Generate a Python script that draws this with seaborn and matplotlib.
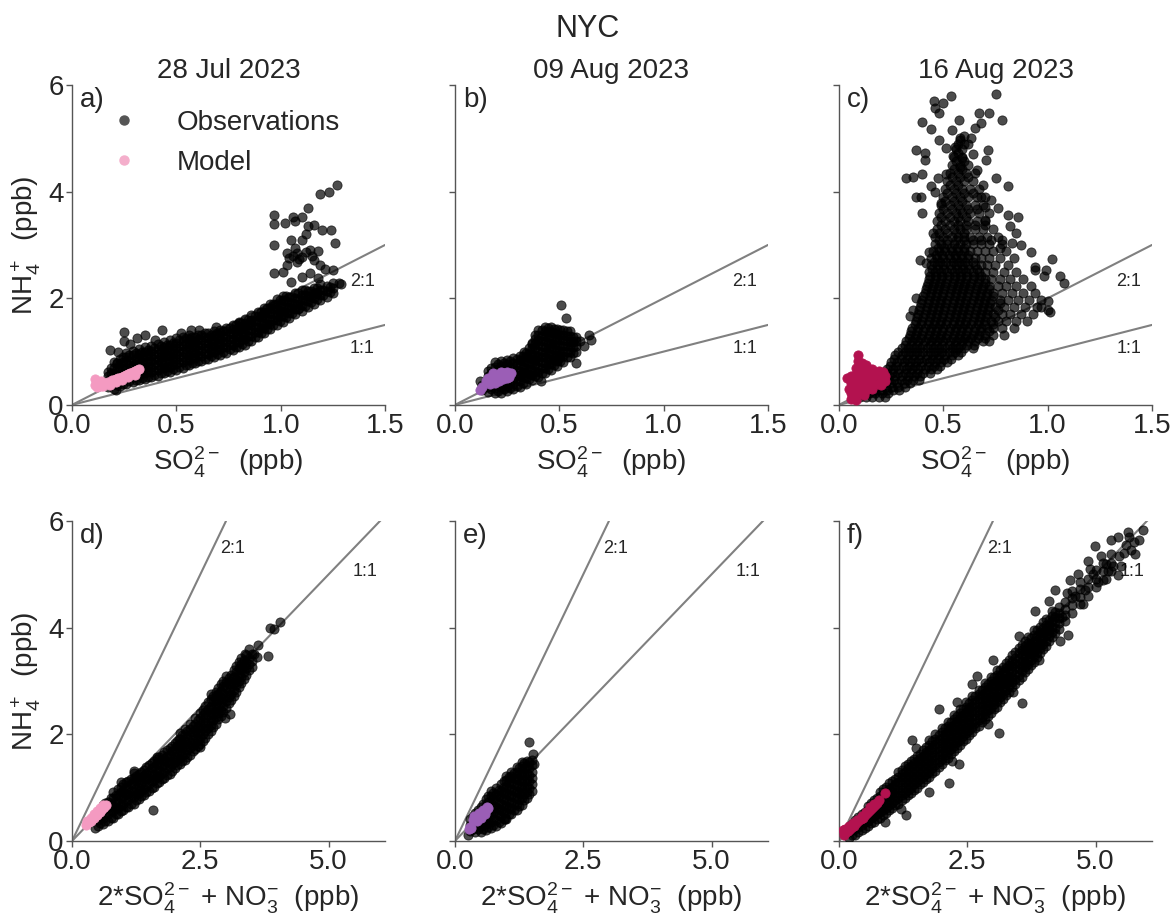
import matplotlib
matplotlib.use("Agg")
import matplotlib.pyplot as plt
import seaborn as sns
import pandas as pd
from matplotlib.lines import Line2D

# ---------------- DATA ----------------
days = ["28 Jul 2023", "09 Aug 2023", "16 Aug 2023"]
model_colors = ["#F49AC1", "#9B5EB6", "#B3124F"]
panel_letters = ["a)", "b)", "c)", "d)", "e)", "f)"]
top_xticks = [0.0, 0.5, 1.0, 1.5]
bottom_xticks = [0.0, 2.5, 5.0]
yticks = [0, 2, 4, 6]

# Panel a: observations, dense band as (SO4, [NH4 ...]) columns
a_obs_core = [
    (0.17, [0.34, 0.44, 0.54, 0.62]),
    (0.20, [0.30, 0.40, 0.50, 0.60, 0.70, 0.80]),
    (0.23, [0.36, 0.46, 0.56, 0.66, 0.76, 0.86]),
    (0.26, [0.40, 0.50, 0.60, 0.70, 0.80, 0.90, 0.98]),
    (0.29, [0.43, 0.53, 0.63, 0.73, 0.83, 0.93, 1.02]),
    (0.32, [0.46, 0.56, 0.66, 0.76, 0.86, 0.96, 1.05]),
    (0.35, [0.49, 0.59, 0.69, 0.79, 0.89, 0.99, 1.08]),
    (0.38, [0.52, 0.62, 0.72, 0.82, 0.92, 1.02, 1.11]),
    (0.41, [0.55, 0.65, 0.75, 0.85, 0.95, 1.05, 1.14]),
    (0.44, [0.59, 0.69, 0.79, 0.89, 0.99, 1.09, 1.18]),
    (0.47, [0.62, 0.72, 0.82, 0.92, 1.02, 1.12, 1.21]),
    (0.50, [0.66, 0.76, 0.86, 0.96, 1.06, 1.16, 1.25]),
    (0.53, [0.70, 0.80, 0.90, 1.00, 1.10, 1.20, 1.28]),
    (0.56, [0.74, 0.84, 0.94, 1.04, 1.14, 1.24, 1.31]),
    (0.59, [0.78, 0.88, 0.98, 1.08, 1.18, 1.28]),
    (0.62, [0.82, 0.92, 1.02, 1.12, 1.22, 1.32]),
    (0.65, [0.86, 0.96, 1.06, 1.16, 1.26, 1.35]),
    (0.68, [0.90, 1.00, 1.10, 1.20, 1.30, 1.38]),
    (0.71, [0.94, 1.04, 1.14, 1.24, 1.34, 1.41]),
    (0.74, [0.98, 1.08, 1.18, 1.28, 1.38, 1.45]),
    (0.77, [1.03, 1.13, 1.23, 1.33, 1.43, 1.50]),
    (0.80, [1.08, 1.18, 1.28, 1.38, 1.48, 1.56]),
    (0.83, [1.13, 1.23, 1.33, 1.43, 1.53, 1.62]),
    (0.86, [1.20, 1.30, 1.40, 1.50, 1.60, 1.68]),
    (0.89, [1.27, 1.37, 1.47, 1.57, 1.67, 1.75]),
    (0.92, [1.34, 1.44, 1.54, 1.64, 1.74, 1.82]),
    (0.95, [1.42, 1.52, 1.62, 1.72, 1.82, 1.90]),
    (0.98, [1.50, 1.60, 1.70, 1.80, 1.90, 1.98]),
    (1.01, [1.56, 1.66, 1.76, 1.86, 1.96, 2.04]),
    (1.04, [1.63, 1.73, 1.83, 1.93, 2.03]),
    (1.07, [1.70, 1.80, 1.90, 2.00, 2.10]),
    (1.10, [1.77, 1.87, 1.97, 2.07, 2.16]),
    (1.13, [1.84, 1.94, 2.04, 2.14]),
    (1.16, [1.90, 2.00, 2.10, 2.20]),
    (1.19, [1.96, 2.06, 2.16, 2.26]),
    (1.22, [2.03, 2.13, 2.23]),
    (1.25, [2.09, 2.19, 2.29]),
]
a_obs_core2 = [
    (0.185, [0.39, 0.49, 0.59, 0.69]),
    (0.215, [0.38, 0.48, 0.58, 0.68, 0.78]),
    (0.245, [0.40, 0.50, 0.60, 0.70, 0.80, 0.90]),
    (0.275, [0.44, 0.54, 0.64, 0.74, 0.84, 0.94]),
    (0.305, [0.47, 0.57, 0.67, 0.77, 0.87, 0.97]),
    (0.335, [0.50, 0.60, 0.70, 0.80, 0.90, 1.00]),
    (0.365, [0.53, 0.63, 0.73, 0.83, 0.93, 1.03]),
    (0.395, [0.56, 0.66, 0.76, 0.86, 0.96, 1.06]),
    (0.425, [0.60, 0.70, 0.80, 0.90, 1.00, 1.10]),
    (0.455, [0.63, 0.73, 0.83, 0.93, 1.03, 1.13]),
    (0.485, [0.67, 0.77, 0.87, 0.97, 1.07, 1.17]),
    (0.515, [0.71, 0.81, 0.91, 1.01, 1.11, 1.21]),
    (0.545, [0.75, 0.85, 0.95, 1.05, 1.15, 1.25]),
    (0.575, [0.79, 0.89, 0.99, 1.09, 1.19, 1.27]),
    (0.605, [0.83, 0.93, 1.03, 1.13, 1.23, 1.31]),
    (0.635, [0.87, 0.97, 1.07, 1.17, 1.27, 1.34]),
    (0.665, [0.91, 1.01, 1.11, 1.21, 1.31]),
    (0.695, [0.95, 1.05, 1.15, 1.25, 1.35]),
    (0.725, [0.99, 1.09, 1.19, 1.29, 1.39]),
    (0.755, [1.04, 1.14, 1.24, 1.34, 1.44]),
    (0.785, [1.09, 1.19, 1.29, 1.39, 1.49]),
    (0.815, [1.14, 1.24, 1.34, 1.44, 1.54]),
    (0.845, [1.20, 1.30, 1.40, 1.50, 1.60]),
    (0.875, [1.27, 1.37, 1.47, 1.57, 1.67]),
    (0.905, [1.34, 1.44, 1.54, 1.64, 1.74]),
    (0.935, [1.42, 1.52, 1.62, 1.72, 1.82]),
    (0.965, [1.50, 1.60, 1.70, 1.80, 1.90]),
    (0.995, [1.57, 1.67, 1.77, 1.87, 1.97]),
    (1.025, [1.64, 1.74, 1.84, 1.94, 2.04]),
    (1.055, [1.72, 1.82, 1.92, 2.02]),
    (1.085, [1.79, 1.89, 1.99, 2.09]),
    (1.115, [1.86, 1.96, 2.06, 2.16]),
    (1.145, [1.93, 2.03, 2.13]),
    (1.175, [1.99, 2.09, 2.19]),
    (1.205, [2.06, 2.16]),
    (1.235, [2.12, 2.22]),
]
a_obs_sparse = [
    (1.27, 4.12), (1.19, 3.95), (1.23, 3.99), (1.13, 3.69), (0.97, 3.56), (1.06, 3.53),
    (1.10, 3.52), (0.97, 3.39), (1.02, 3.42), (1.16, 3.38), (1.20, 3.28), (1.24, 3.28),
    (1.05, 3.09), (1.10, 3.09), (0.97, 3.00), (1.26, 3.03), (1.03, 2.84), (1.08, 2.84),
    (1.14, 2.91), (1.18, 2.88), (1.04, 2.75), (1.09, 2.73), (1.16, 2.72), (1.03, 2.62),
    (1.19, 2.62), (0.97, 2.47), (1.01, 2.50), (1.14, 2.47), (1.25, 2.53), (1.05, 2.31),
    (1.18, 2.38), (1.28, 2.28), (1.07, 2.95), (1.12, 3.20), (1.21, 2.55), (1.06, 2.80),
    (1.10, 2.78), (1.12, 2.86), (1.08, 2.68), (1.15, 2.80), (1.13, 3.35), (1.07, 3.45),
    (0.18, 1.03), (0.22, 1.00), (0.25, 1.37), (0.25, 1.19), (0.31, 1.25), (0.35, 1.31),
    (0.215, 0.78), (0.21, 0.28), (0.43, 1.40), (0.61, 1.41), (0.69, 1.47), (0.80, 1.53),
    (0.92, 1.72), (0.97, 1.87), (0.98, 1.66), (1.09, 1.81), (1.17, 2.09), (1.10, 2.39),
    (0.28, 1.15), (0.40, 1.22), (0.52, 1.35), (0.57, 1.40), (0.86, 1.58), (1.29, 2.26),
]
a_mod = [
    (0.11, 0.38), (0.11, 0.48), (0.12, 0.33), (0.12, 0.44), (0.13, 0.40), (0.14, 0.36),
    (0.14, 0.45), (0.15, 0.40), (0.16, 0.42), (0.17, 0.43), (0.18, 0.42), (0.19, 0.46),
    (0.20, 0.47), (0.21, 0.48), (0.22, 0.50), (0.23, 0.51), (0.24, 0.53), (0.25, 0.55),
    (0.26, 0.56), (0.27, 0.58), (0.28, 0.60), (0.29, 0.61), (0.30, 0.63), (0.31, 0.65),
    (0.32, 0.67), (0.15, 0.35), (0.18, 0.38), (0.21, 0.43), (0.24, 0.47), (0.27, 0.52),
    (0.30, 0.57),
]

# Panel b: observations (SO4, [NH4 ...])
b_obs_core = [
    (0.13, [0.28, 0.38]),
    (0.16, [0.24, 0.34, 0.44, 0.54, 0.64]),
    (0.19, [0.22, 0.32, 0.42, 0.52, 0.62, 0.72, 0.80]),
    (0.22, [0.23, 0.33, 0.43, 0.53, 0.63, 0.73, 0.82]),
    (0.25, [0.26, 0.36, 0.46, 0.56, 0.66, 0.76, 0.85]),
    (0.28, [0.29, 0.39, 0.49, 0.59, 0.69, 0.79, 0.88]),
    (0.31, [0.34, 0.44, 0.54, 0.64, 0.74, 0.84, 0.92]),
    (0.34, [0.40, 0.50, 0.60, 0.70, 0.80, 0.90, 0.98]),
    (0.37, [0.46, 0.56, 0.66, 0.76, 0.86, 0.96, 1.06, 1.14]),
    (0.40, [0.52, 0.62, 0.72, 0.82, 0.92, 1.02, 1.12, 1.22, 1.32, 1.40]),
    (0.43, [0.59, 0.69, 0.79, 0.89, 0.99, 1.09, 1.19, 1.29, 1.39, 1.47]),
    (0.46, [0.66, 0.76, 0.86, 0.96, 1.06, 1.16, 1.26, 1.36, 1.46]),
    (0.49, [0.73, 0.83, 0.93, 1.03, 1.13, 1.23, 1.33, 1.43]),
    (0.52, [0.81, 0.91, 1.01, 1.11, 1.21, 1.31, 1.41]),
    (0.55, [0.90, 1.00, 1.10, 1.20, 1.30, 1.38]),
    (0.58, [1.00, 1.10, 1.20, 1.28]),
]
b_obs_core2 = [
    (0.175, [0.29, 0.39, 0.49, 0.59, 0.69]),
    (0.205, [0.27, 0.37, 0.47, 0.57, 0.67, 0.77]),
    (0.235, [0.29, 0.39, 0.49, 0.59, 0.69, 0.79]),
    (0.265, [0.32, 0.42, 0.52, 0.62, 0.72, 0.82]),
    (0.295, [0.36, 0.46, 0.56, 0.66, 0.76, 0.86]),
    (0.325, [0.42, 0.52, 0.62, 0.72, 0.82, 0.92]),
    (0.355, [0.48, 0.58, 0.68, 0.78, 0.88, 0.98, 1.06]),
    (0.385, [0.54, 0.64, 0.74, 0.84, 0.94, 1.04, 1.14, 1.24, 1.32]),
    (0.415, [0.60, 0.70, 0.80, 0.90, 1.00, 1.10, 1.20, 1.30, 1.40]),
    (0.445, [0.67, 0.77, 0.87, 0.97, 1.07, 1.17, 1.27, 1.37, 1.45]),
    (0.475, [0.74, 0.84, 0.94, 1.04, 1.14, 1.24, 1.34, 1.42]),
    (0.505, [0.82, 0.92, 1.02, 1.12, 1.22, 1.32, 1.40]),
    (0.535, [0.90, 1.00, 1.10, 1.20, 1.30, 1.38]),
    (0.565, [0.98, 1.08, 1.18, 1.28]),
]
b_obs_sparse = [
    (0.51, 1.875), (0.53, 1.63), (0.37, 1.16), (0.64, 1.31), (0.65, 1.22), (0.58, 0.78),
    (0.50, 0.875), (0.60, 1.19), (0.41, 0.45), (0.33, 1.00), (0.12, 0.45), (0.62, 1.10),
]
b_mod = [
    (0.12, 0.28), (0.13, 0.33), (0.15, 0.45), (0.16, 0.50), (0.17, 0.48), (0.18, 0.52),
    (0.19, 0.55), (0.20, 0.50), (0.21, 0.58), (0.22, 0.55), (0.23, 0.60), (0.24, 0.56),
    (0.25, 0.62), (0.26, 0.58), (0.27, 0.60), (0.17, 0.40), (0.19, 0.42), (0.21, 0.45),
    (0.23, 0.48), (0.25, 0.50), (0.18, 0.60), (0.22, 0.62), (0.26, 0.52),
]

# Panel c: observations, dense core as (NH4, [SO4 ...]) rows
c_obs_core = [
    (0.15, [0.10, 0.13, 0.16, 0.19, 0.22]),
    (0.28, [0.14, 0.17, 0.20, 0.23, 0.26, 0.29]),
    (0.41, [0.19, 0.22, 0.25, 0.28, 0.31, 0.34]),
    (0.54, [0.21, 0.24, 0.27, 0.30, 0.33, 0.36, 0.39]),
    (0.67, [0.23, 0.26, 0.29, 0.32, 0.35, 0.38, 0.41, 0.44, 0.47]),
    (0.80, [0.25, 0.28, 0.31, 0.34, 0.37, 0.40, 0.43, 0.46, 0.49, 0.52]),
    (0.93, [0.27, 0.30, 0.33, 0.36, 0.39, 0.42, 0.45, 0.48, 0.51, 0.54, 0.57]),
    (1.06, [0.30, 0.33, 0.36, 0.39, 0.42, 0.45, 0.48, 0.51, 0.54, 0.57, 0.60, 0.64]),
    (1.19, [0.32, 0.35, 0.38, 0.41, 0.44, 0.47, 0.50, 0.53, 0.56, 0.59, 0.62, 0.65, 0.69, 0.72]),
    (1.32, [0.34, 0.37, 0.40, 0.43, 0.46, 0.49, 0.52, 0.55, 0.58, 0.61, 0.64, 0.67, 0.70, 0.74, 0.79]),
    (1.45, [0.35, 0.38, 0.41, 0.44, 0.47, 0.50, 0.53, 0.56, 0.59, 0.62, 0.65, 0.68, 0.71, 0.74, 0.78, 0.84]),
    (1.58, [0.37, 0.40, 0.43, 0.46, 0.49, 0.52, 0.55, 0.58, 0.61, 0.64, 0.67, 0.70, 0.73, 0.76, 0.80, 0.85, 0.90]),
    (1.71, [0.38, 0.41, 0.44, 0.47, 0.50, 0.53, 0.56, 0.59, 0.62, 0.65, 0.68, 0.71, 0.74, 0.78, 0.82, 0.87, 0.93]),
    (1.84, [0.39, 0.42, 0.45, 0.48, 0.51, 0.54, 0.57, 0.60, 0.63, 0.66, 0.69, 0.72, 0.75, 0.79, 0.84, 0.89, 0.95]),
    (1.97, [0.40, 0.43, 0.46, 0.49, 0.52, 0.55, 0.58, 0.61, 0.64, 0.67, 0.70, 0.73, 0.77, 0.81, 0.86, 0.91, 0.97]),
    (2.10, [0.41, 0.44, 0.47, 0.50, 0.53, 0.56, 0.59, 0.62, 0.65, 0.68, 0.71, 0.74, 0.78, 0.83, 0.88, 0.94]),
    (2.23, [0.42, 0.45, 0.48, 0.51, 0.54, 0.57, 0.60, 0.63, 0.66, 0.69, 0.72, 0.76, 0.80, 0.85, 0.92]),
    (2.36, [0.43, 0.46, 0.49, 0.52, 0.55, 0.58, 0.61, 0.64, 0.67, 0.70, 0.73, 0.77, 0.82, 0.88]),
    (2.49, [0.43, 0.46, 0.49, 0.52, 0.55, 0.58, 0.61, 0.64, 0.67, 0.70, 0.74, 0.79, 0.85]),
    (2.62, [0.44, 0.47, 0.50, 0.53, 0.56, 0.59, 0.62, 0.65, 0.68, 0.71, 0.75, 0.81]),
    (2.75, [0.44, 0.47, 0.50, 0.53, 0.56, 0.59, 0.62, 0.65, 0.68, 0.72, 0.77, 0.84]),
    (2.88, [0.45, 0.48, 0.51, 0.54, 0.57, 0.60, 0.63, 0.66, 0.70, 0.74, 0.80]),
    (3.01, [0.46, 0.49, 0.52, 0.55, 0.58, 0.61, 0.64, 0.68, 0.72, 0.78]),
    (3.15, [0.46, 0.50, 0.54, 0.57, 0.60, 0.63, 0.67, 0.71, 0.76]),
    (3.30, [0.47, 0.51, 0.55, 0.58, 0.61, 0.65, 0.69, 0.74]),
    (3.45, [0.47, 0.51, 0.55, 0.58, 0.62, 0.66, 0.70]),
    (3.60, [0.48, 0.52, 0.56, 0.59, 0.63, 0.67, 0.72]),
    (3.75, [0.49, 0.53, 0.57, 0.61, 0.65, 0.69]),
    (3.90, [0.50, 0.54, 0.58, 0.62, 0.66, 0.70]),
    (4.05, [0.51, 0.55, 0.59, 0.63, 0.67]),
    (4.20, [0.52, 0.56, 0.60, 0.64]),
    (4.35, [0.53, 0.57, 0.61, 0.65]),
    (4.50, [0.54, 0.58, 0.62]),
    (4.65, [0.55, 0.59]),
    (4.80, [0.56, 0.59]),
    (0.215, [0.115, 0.145, 0.175, 0.205, 0.235]),
    (0.345, [0.165, 0.195, 0.225, 0.255, 0.285, 0.315]),
    (0.475, [0.205, 0.235, 0.265, 0.295, 0.325, 0.355, 0.385]),
    (0.605, [0.225, 0.255, 0.285, 0.315, 0.345, 0.375, 0.405, 0.435]),
    (0.735, [0.245, 0.275, 0.305, 0.335, 0.365, 0.395, 0.425, 0.455, 0.485]),
    (0.865, [0.265, 0.295, 0.325, 0.355, 0.385, 0.415, 0.445, 0.475, 0.505, 0.535]),
    (0.995, [0.285, 0.315, 0.345, 0.375, 0.405, 0.435, 0.465, 0.495, 0.525, 0.555, 0.585]),
    (1.125, [0.315, 0.345, 0.375, 0.405, 0.435, 0.465, 0.495, 0.525, 0.555, 0.585, 0.615, 0.645]),
    (1.255, [0.335, 0.365, 0.395, 0.425, 0.455, 0.485, 0.515, 0.545, 0.575, 0.605, 0.635, 0.665, 0.70]),
    (1.385, [0.345, 0.375, 0.405, 0.435, 0.465, 0.495, 0.525, 0.555, 0.585, 0.615, 0.645, 0.675, 0.72]),
    (1.515, [0.365, 0.395, 0.425, 0.455, 0.485, 0.515, 0.545, 0.575, 0.605, 0.635, 0.665, 0.695, 0.74]),
    (1.645, [0.375, 0.405, 0.435, 0.465, 0.495, 0.525, 0.555, 0.585, 0.615, 0.645, 0.675, 0.705, 0.75]),
    (1.775, [0.385, 0.415, 0.445, 0.475, 0.505, 0.535, 0.565, 0.595, 0.625, 0.655, 0.685, 0.715, 0.76]),
    (1.905, [0.395, 0.425, 0.455, 0.485, 0.515, 0.545, 0.575, 0.605, 0.635, 0.665, 0.695, 0.725, 0.77]),
    (2.035, [0.405, 0.435, 0.465, 0.495, 0.525, 0.555, 0.585, 0.615, 0.645, 0.675, 0.705, 0.74]),
    (2.165, [0.415, 0.445, 0.475, 0.505, 0.535, 0.565, 0.595, 0.625, 0.655, 0.685, 0.72]),
    (2.295, [0.425, 0.455, 0.485, 0.515, 0.545, 0.575, 0.605, 0.635, 0.665, 0.70]),
    (2.425, [0.435, 0.465, 0.495, 0.525, 0.555, 0.585, 0.615, 0.645, 0.68]),
    (2.555, [0.445, 0.475, 0.505, 0.535, 0.565, 0.595, 0.625, 0.66]),
    (2.685, [0.455, 0.485, 0.515, 0.545, 0.575, 0.605, 0.64]),
    (2.815, [0.465, 0.495, 0.525, 0.555, 0.585, 0.62]),
    (2.945, [0.475, 0.505, 0.535, 0.565, 0.60]),
    (3.085, [0.48, 0.52, 0.56, 0.60, 0.64, 0.68, 0.73]),
    (3.225, [0.48, 0.52, 0.56, 0.60]),
    (3.375, [0.49, 0.53, 0.57, 0.61, 0.65, 0.70]),
    (3.525, [0.49, 0.53, 0.57, 0.61]),
    (3.675, [0.50, 0.54, 0.58, 0.62, 0.66]),
    (3.825, [0.51, 0.55, 0.59]),
    (3.975, [0.52, 0.56, 0.60, 0.64]),
    (4.125, [0.53, 0.57]),
    (4.275, [0.54, 0.58, 0.62]),
    (4.425, [0.55, 0.59]),
    (4.575, [0.56, 0.60]),
    (4.725, [0.57]),
    (4.90, [0.57, 0.60]),
    (5.00, [0.58]),
]
c_obs_sparse = [
    (0.753, 5.84), (0.535, 5.79), (0.455, 5.70), (0.50, 5.67), (0.46, 5.575), (0.48, 5.47),
    (0.673, 5.47), (0.72, 5.47), (0.40, 5.30), (0.573, 5.34), (0.68, 5.29), (0.78, 5.34),
    (0.44, 5.17), (0.54, 5.16), (0.65, 5.19), (0.48, 4.97), (0.578, 4.97), (0.633, 5.00),
    (0.514, 4.81), (0.554, 4.84), (0.37, 4.79), (0.41, 4.72), (0.713, 4.79), (0.41, 4.59),
    (0.546, 4.66), (0.59, 4.63), (0.64, 4.71), (0.705, 4.59), (0.578, 4.47), (0.32, 4.25),
    (0.354, 4.28), (0.40, 4.34), (0.474, 4.25), (0.514, 4.34), (0.753, 4.26), (0.81, 4.10),
    (0.69, 4.125), (0.458, 4.00), (0.37, 3.90), (0.395, 3.90), (0.68, 3.90), (0.49, 3.78),
    (0.73, 3.84), (0.40, 3.59), (0.70, 3.72), (0.81, 3.56), (0.86, 3.53), (0.82, 3.36),
    (0.70, 3.47), (0.45, 3.22), (0.85, 3.22), (0.83, 3.03), (0.87, 3.00), (0.43, 2.875),
    (0.92, 2.86), (0.386, 2.72), (0.418, 2.66), (1.02, 2.73), (0.94, 2.53), (0.99, 2.53),
    (0.94, 2.59), (1.06, 2.41), (1.08, 2.29), (0.985, 2.41), (0.37, 2.00), (0.34, 1.66),
    (0.354, 1.78), (1.00, 1.94), (1.01, 1.75), (0.97, 1.84), (1.00, 1.78), (0.78, 3.10),
    (0.76, 3.70), (0.60, 5.05), (0.62, 4.90), (0.66, 4.40), (0.44, 4.10), (0.77, 2.95),
]
c_mod = [
    (0.09, 0.93), (0.09, 0.82), (0.11, 0.78), (0.13, 0.75), (0.08, 0.70), (0.10, 0.68),
    (0.13, 0.65), (0.16, 0.68), (0.19, 0.64), (0.21, 0.62), (0.22, 0.55), (0.04, 0.50),
    (0.06, 0.55), (0.08, 0.58), (0.10, 0.55), (0.12, 0.55), (0.14, 0.52), (0.17, 0.55),
    (0.20, 0.50), (0.22, 0.45), (0.06, 0.42), (0.08, 0.45), (0.10, 0.42), (0.12, 0.40),
    (0.15, 0.42), (0.18, 0.40), (0.20, 0.38), (0.07, 0.32), (0.09, 0.35), (0.11, 0.30),
    (0.13, 0.28), (0.16, 0.30), (0.06, 0.22), (0.08, 0.20), (0.10, 0.22), (0.12, 0.18),
    (0.06, 0.12), (0.08, 0.10), (0.05, 0.30), (0.14, 0.62),
]

# Panel d: observations (2*SO4+NO3, [NH4 ...])
d_obs_core = [
    (0.5, [0.28, 0.40]),
    (0.6, [0.32, 0.44, 0.56, 0.68]),
    (0.7, [0.38, 0.50, 0.62, 0.74]),
    (0.8, [0.44, 0.56, 0.68, 0.80, 0.92]),
    (0.9, [0.50, 0.62, 0.74, 0.86, 0.98]),
    (1.0, [0.58, 0.70, 0.82, 0.94, 1.06]),
    (1.1, [0.64, 0.76, 0.88, 1.00, 1.12]),
    (1.2, [0.70, 0.82, 0.94, 1.06, 1.18, 1.28]),
    (1.3, [0.78, 0.90, 1.02, 1.14, 1.26]),
    (1.4, [0.86, 0.98, 1.10, 1.22, 1.34]),
    (1.5, [0.94, 1.06, 1.18, 1.30, 1.42]),
    (1.6, [1.02, 1.14, 1.26, 1.38, 1.50]),
    (1.7, [1.10, 1.22, 1.34, 1.46, 1.58]),
    (1.8, [1.18, 1.30, 1.42, 1.54, 1.66]),
    (1.9, [1.26, 1.38, 1.50, 1.62, 1.74]),
    (2.0, [1.36, 1.48, 1.60, 1.72, 1.84]),
    (2.1, [1.44, 1.56, 1.68, 1.80, 1.92, 2.02]),
    (2.2, [1.52, 1.64, 1.76, 1.88, 2.00, 2.10]),
    (2.3, [1.62, 1.74, 1.86, 1.98, 2.10, 2.20]),
    (2.4, [1.72, 1.84, 1.96, 2.08, 2.20, 2.30]),
    (2.5, [1.82, 1.94, 2.06, 2.18, 2.30, 2.40]),
    (2.6, [1.94, 2.06, 2.18, 2.30, 2.42, 2.54]),
    (2.7, [2.06, 2.18, 2.30, 2.42, 2.54, 2.66]),
    (2.8, [2.20, 2.32, 2.44, 2.56, 2.68, 2.80]),
    (2.9, [2.34, 2.46, 2.58, 2.70, 2.82, 2.94]),
    (3.0, [2.50, 2.62, 2.74, 2.86, 2.98, 3.10]),
    (3.1, [2.64, 2.76, 2.88, 3.00, 3.12]),
    (3.2, [2.80, 2.92, 3.04, 3.16, 3.28]),
    (3.3, [2.96, 3.08, 3.20, 3.32, 3.44]),
    (3.4, [3.12, 3.24, 3.36, 3.48]),
    (3.5, [3.26, 3.38, 3.50]),
]
d_obs_core2 = [
    (0.55, [0.34, 0.46, 0.58]),
    (0.65, [0.38, 0.50, 0.62, 0.72]),
    (0.75, [0.44, 0.56, 0.68, 0.80]),
    (0.85, [0.50, 0.62, 0.74, 0.86]),
    (0.95, [0.56, 0.68, 0.80, 0.92, 1.02]),
    (1.05, [0.64, 0.76, 0.88, 1.00, 1.10]),
    (1.15, [0.70, 0.82, 0.94, 1.06, 1.16]),
    (1.25, [0.76, 0.88, 1.00, 1.12, 1.22]),
    (1.35, [0.84, 0.96, 1.08, 1.20, 1.30]),
    (1.45, [0.92, 1.04, 1.16, 1.28, 1.38]),
    (1.55, [1.00, 1.12, 1.24, 1.36, 1.46]),
    (1.65, [1.08, 1.20, 1.32, 1.44, 1.54]),
    (1.75, [1.16, 1.28, 1.40, 1.52, 1.62]),
    (1.85, [1.24, 1.36, 1.48, 1.60, 1.70]),
    (1.95, [1.32, 1.44, 1.56, 1.68, 1.78]),
    (2.05, [1.42, 1.54, 1.66, 1.78, 1.88]),
    (2.15, [1.50, 1.62, 1.74, 1.86, 1.98]),
    (2.25, [1.58, 1.70, 1.82, 1.94, 2.06]),
    (2.35, [1.68, 1.80, 1.92, 2.04, 2.16]),
    (2.45, [1.78, 1.90, 2.02, 2.14, 2.26]),
    (2.55, [1.88, 2.00, 2.12, 2.24, 2.36, 2.46]),
    (2.65, [2.00, 2.12, 2.24, 2.36, 2.48, 2.60]),
    (2.75, [2.14, 2.26, 2.38, 2.50, 2.62, 2.72]),
    (2.85, [2.28, 2.40, 2.52, 2.64, 2.76, 2.86]),
    (2.95, [2.42, 2.54, 2.66, 2.78, 2.90, 3.00]),
    (3.05, [2.58, 2.70, 2.82, 2.94, 3.06]),
    (3.15, [2.72, 2.84, 2.96, 3.08, 3.20]),
    (3.25, [2.88, 3.00, 3.12, 3.24, 3.36]),
    (3.35, [3.04, 3.16, 3.28, 3.40]),
    (3.45, [3.20, 3.32, 3.44]),
]
d_obs_sparse = [
    (4.06, 4.11), (3.93, 3.98), (3.85, 4.00), (3.62, 3.67), (3.82, 3.47), (3.38, 3.51),
    (3.54, 3.50), (2.99, 2.30), (3.08, 2.39), (1.57, 0.58), (2.49, 1.77), (1.66, 1.58),
    (2.08, 1.92), (0.45, 0.25), (3.60, 3.45), (3.45, 3.60), (2.70, 2.75), (1.20, 1.32),
    (0.95, 1.10),
]
d_mod = [
    (0.27, 0.30), (0.30, 0.33), (0.33, 0.36), (0.36, 0.38), (0.39, 0.41), (0.42, 0.44),
    (0.45, 0.46), (0.48, 0.49), (0.51, 0.52), (0.54, 0.55), (0.57, 0.58), (0.60, 0.61),
    (0.63, 0.64), (0.66, 0.67), (0.30, 0.38), (0.36, 0.44), (0.42, 0.50), (0.48, 0.56),
    (0.54, 0.62), (0.60, 0.68),
]

# Panel e: observations (2*SO4+NO3, [NH4 ...])
e_obs_core = [
    (0.3, [0.18, 0.30, 0.42]),
    (0.4, [0.16, 0.28, 0.40, 0.52]),
    (0.5, [0.16, 0.28, 0.40, 0.52, 0.64]),
    (0.6, [0.20, 0.32, 0.44, 0.56, 0.68, 0.78]),
    (0.7, [0.24, 0.36, 0.48, 0.60, 0.72, 0.84, 0.94]),
    (0.8, [0.28, 0.40, 0.52, 0.64, 0.76, 0.88, 1.00]),
    (0.9, [0.34, 0.46, 0.58, 0.70, 0.82, 0.94, 1.06]),
    (1.0, [0.42, 0.54, 0.66, 0.78, 0.90, 1.02, 1.14, 1.22]),
    (1.1, [0.50, 0.62, 0.74, 0.86, 0.98, 1.10, 1.22, 1.30]),
    (1.2, [0.58, 0.70, 0.82, 0.94, 1.06, 1.18, 1.30, 1.38]),
    (1.3, [0.68, 0.80, 0.92, 1.04, 1.16, 1.28, 1.40, 1.48]),
    (1.4, [0.80, 0.92, 1.04, 1.16, 1.28, 1.40, 1.50]),
    (1.5, [0.94, 1.06, 1.18, 1.30, 1.42, 1.52]),
]
e_obs_core2 = [
    (0.35, [0.22, 0.34, 0.46]),
    (0.45, [0.22, 0.34, 0.46, 0.58]),
    (0.55, [0.22, 0.34, 0.46, 0.58, 0.70]),
    (0.65, [0.26, 0.38, 0.50, 0.62, 0.74, 0.84]),
    (0.75, [0.30, 0.42, 0.54, 0.66, 0.78, 0.90]),
    (0.85, [0.36, 0.48, 0.60, 0.72, 0.84, 0.96]),
    (0.95, [0.42, 0.54, 0.66, 0.78, 0.90, 1.02, 1.12]),
    (1.05, [0.50, 0.62, 0.74, 0.86, 0.98, 1.10, 1.20]),
    (1.15, [0.58, 0.70, 0.82, 0.94, 1.06, 1.18, 1.28]),
    (1.25, [0.66, 0.78, 0.90, 1.02, 1.14, 1.26, 1.36]),
    (1.35, [0.76, 0.88, 1.00, 1.12, 1.24, 1.36, 1.46]),
    (1.45, [0.88, 1.00, 1.12, 1.24, 1.36, 1.48]),
]
e_obs_sparse = [
    (1.45, 1.86), (1.52, 1.64), (0.97, 0.42), (1.55, 1.45), (0.25, 0.12),
]
e_mod = [
    (0.27, 0.22), (0.29, 0.26), (0.31, 0.24), (0.36, 0.40), (0.40, 0.43), (0.44, 0.46),
    (0.48, 0.49), (0.52, 0.52), (0.56, 0.55), (0.60, 0.58), (0.64, 0.62), (0.38, 0.46),
    (0.46, 0.52), (0.54, 0.58), (0.62, 0.64), (0.42, 0.38), (0.50, 0.44), (0.58, 0.50),
]

# Panel f: observations (2*SO4+NO3, [NH4 ...])
f_obs_core = [
    (0.20, [0.06, 0.16, 0.26]),
    (0.32, [0.12, 0.22, 0.32, 0.40]),
    (0.44, [0.20, 0.30, 0.40, 0.50]),
    (0.56, [0.28, 0.38, 0.48, 0.58, 0.66]),
    (0.68, [0.36, 0.46, 0.56, 0.66, 0.76]),
    (0.80, [0.44, 0.54, 0.64, 0.74, 0.84, 0.92]),
    (0.92, [0.52, 0.62, 0.72, 0.82, 0.92, 1.02]),
    (1.04, [0.62, 0.72, 0.82, 0.92, 1.02, 1.12]),
    (1.16, [0.70, 0.80, 0.90, 1.00, 1.10, 1.20, 1.30]),
    (1.28, [0.80, 0.90, 1.00, 1.10, 1.20, 1.30, 1.40]),
    (1.40, [0.90, 1.00, 1.10, 1.20, 1.30, 1.40, 1.50]),
    (1.52, [1.00, 1.10, 1.20, 1.30, 1.40, 1.50, 1.60]),
    (1.64, [1.10, 1.20, 1.30, 1.40, 1.50, 1.60, 1.70]),
    (1.76, [1.20, 1.30, 1.40, 1.50, 1.60, 1.70, 1.80, 1.90]),
    (1.88, [1.32, 1.42, 1.52, 1.62, 1.72, 1.82, 1.92, 2.00]),
    (2.00, [1.44, 1.54, 1.64, 1.74, 1.84, 1.94, 2.04, 2.12]),
    (2.12, [1.56, 1.66, 1.76, 1.86, 1.96, 2.06, 2.16, 2.24]),
    (2.24, [1.68, 1.78, 1.88, 1.98, 2.08, 2.18, 2.28, 2.36]),
    (2.36, [1.80, 1.90, 2.00, 2.10, 2.20, 2.30, 2.40, 2.48]),
    (2.48, [1.92, 2.02, 2.12, 2.22, 2.32, 2.42, 2.52, 2.60]),
    (2.60, [2.04, 2.14, 2.24, 2.34, 2.44, 2.54, 2.64, 2.72]),
    (2.72, [2.16, 2.26, 2.36, 2.46, 2.56, 2.66, 2.76, 2.84]),
    (2.84, [2.28, 2.38, 2.48, 2.58, 2.68, 2.78, 2.88, 2.96]),
    (2.96, [2.40, 2.50, 2.60, 2.70, 2.80, 2.90, 3.00, 3.08]),
    (3.08, [2.52, 2.62, 2.72, 2.82, 2.92, 3.02, 3.12, 3.20]),
    (3.20, [2.66, 2.76, 2.86, 2.96, 3.06, 3.16, 3.26]),
    (3.32, [2.80, 2.90, 3.00, 3.10, 3.20, 3.30, 3.40]),
    (3.44, [2.94, 3.04, 3.14, 3.24, 3.34, 3.44, 3.54]),
    (3.56, [3.08, 3.18, 3.28, 3.38, 3.48, 3.58, 3.68]),
    (3.68, [3.22, 3.32, 3.42, 3.52, 3.62, 3.72, 3.82]),
    (3.80, [3.36, 3.46, 3.56, 3.66, 3.76, 3.86, 3.96]),
    (3.92, [3.52, 3.62, 3.72, 3.82, 3.92, 4.02]),
    (4.04, [3.66, 3.76, 3.86, 3.96, 4.06, 4.16]),
    (4.16, [3.82, 3.92, 4.02, 4.12, 4.22, 4.32]),
    (4.28, [3.98, 4.08, 4.18, 4.28, 4.38]),
    (4.40, [4.12, 4.24, 4.36, 4.48]),
    (4.55, [4.28, 4.42, 4.56, 4.68]),
    (4.70, [4.44, 4.58, 4.72, 4.86]),
    (4.85, [4.60, 4.76, 4.92]),
    (5.00, [4.76, 4.92, 5.08]),
    (5.15, [4.90, 5.06, 5.22]),
    (5.30, [5.06, 5.22, 5.38]),
]
f_obs_core2 = [
    (0.26, [0.11, 0.21, 0.31]),
    (0.38, [0.17, 0.27, 0.37, 0.45]),
    (0.50, [0.25, 0.35, 0.45, 0.55]),
    (0.62, [0.33, 0.43, 0.53, 0.63, 0.71]),
    (0.74, [0.41, 0.51, 0.61, 0.71, 0.81]),
    (0.86, [0.49, 0.59, 0.69, 0.79, 0.89, 0.97]),
    (0.98, [0.58, 0.68, 0.78, 0.88, 0.98, 1.08]),
    (1.10, [0.67, 0.77, 0.87, 0.97, 1.07, 1.17]),
    (1.22, [0.76, 0.86, 0.96, 1.06, 1.16, 1.26, 1.34]),
    (1.34, [0.86, 0.96, 1.06, 1.16, 1.26, 1.36, 1.44]),
    (1.46, [0.96, 1.06, 1.16, 1.26, 1.36, 1.46, 1.54]),
    (1.58, [1.06, 1.16, 1.26, 1.36, 1.46, 1.56, 1.64]),
    (1.70, [1.16, 1.26, 1.36, 1.46, 1.56, 1.66, 1.76]),
    (1.82, [1.27, 1.37, 1.47, 1.57, 1.67, 1.77, 1.87]),
    (1.94, [1.39, 1.49, 1.59, 1.69, 1.79, 1.89, 1.99]),
    (2.06, [1.51, 1.61, 1.71, 1.81, 1.91, 2.01, 2.11]),
    (2.18, [1.63, 1.73, 1.83, 1.93, 2.03, 2.13, 2.23]),
    (2.30, [1.75, 1.85, 1.95, 2.05, 2.15, 2.25, 2.35]),
    (2.42, [1.87, 1.97, 2.07, 2.17, 2.27, 2.37, 2.47]),
    (2.54, [1.99, 2.09, 2.19, 2.29, 2.39, 2.49, 2.59]),
    (2.66, [2.11, 2.21, 2.31, 2.41, 2.51, 2.61, 2.71]),
    (2.78, [2.23, 2.33, 2.43, 2.53, 2.63, 2.73, 2.83]),
    (2.90, [2.35, 2.45, 2.55, 2.65, 2.75, 2.85, 2.95]),
    (3.02, [2.47, 2.57, 2.67, 2.77, 2.87, 2.97, 3.07]),
    (3.14, [2.60, 2.70, 2.80, 2.90, 3.00, 3.10, 3.20]),
    (3.26, [2.74, 2.84, 2.94, 3.04, 3.14, 3.24, 3.34]),
    (3.38, [2.88, 2.98, 3.08, 3.18, 3.28, 3.38, 3.48]),
    (3.50, [3.02, 3.12, 3.22, 3.32, 3.42, 3.52, 3.62]),
    (3.62, [3.16, 3.26, 3.36, 3.46, 3.56, 3.66, 3.76]),
    (3.74, [3.30, 3.40, 3.50, 3.60, 3.70, 3.80]),
    (3.86, [3.45, 3.55, 3.65, 3.75, 3.85, 3.95]),
    (3.98, [3.60, 3.70, 3.80, 3.90, 4.00, 4.10]),
    (4.10, [3.75, 3.85, 3.95, 4.05, 4.15]),
    (4.22, [3.90, 4.00, 4.10, 4.20, 4.30]),
]
f_obs_sparse = [
    (3.11, 2.02), (2.14, 1.09), (2.34, 1.44), (1.76, 0.92), (1.30, 0.49), (3.57, 2.58),
    (1.95, 2.47), (1.43, 1.89), (4.47, 3.86), (3.82, 4.32), (4.21, 4.70), (4.99, 5.54),
    (5.31, 5.64), (5.63, 5.79), (5.92, 5.84), (5.76, 5.39), (5.70, 5.45), (5.44, 5.70),
    (5.21, 4.92), (5.24, 5.07), (5.44, 4.98), (4.86, 5.26), (4.66, 5.01), (1.50, 1.75),
    (2.30, 2.60), (2.60, 2.95), (3.00, 3.40), (3.50, 3.85), (2.20, 1.50), (2.90, 2.20),
    (3.40, 2.80), (1.20, 0.60), (0.90, 0.35), (2.70, 3.10), (3.90, 3.40), (4.30, 3.75),
    (4.10, 4.50), (4.50, 4.90), (5.55, 5.40), (5.85, 5.65), (5.10, 5.35), (4.75, 4.45),
    (4.60, 4.60), (4.80, 4.70), (4.90, 5.10), (5.05, 4.85), (5.20, 5.20), (5.35, 5.15),
    (5.45, 5.35), (5.60, 5.55), (5.75, 5.60), (4.45, 4.65), (4.35, 4.20), (4.95, 5.00),
    (5.50, 5.15), (5.65, 5.70),
]
f_mod = [
    (0.10, 0.12), (0.14, 0.16), (0.18, 0.18), (0.22, 0.22), (0.26, 0.26), (0.30, 0.29),
    (0.34, 0.33), (0.38, 0.37), (0.42, 0.41), (0.46, 0.44), (0.50, 0.48), (0.54, 0.52),
    (0.58, 0.56), (0.62, 0.60), (0.66, 0.64), (0.70, 0.68), (0.74, 0.72), (0.78, 0.76),
    (0.90, 0.90), (0.12, 0.22), (0.20, 0.28), (0.28, 0.34), (0.36, 0.40), (0.44, 0.47),
    (0.52, 0.55), (0.60, 0.63), (0.68, 0.70), (0.08, 0.20),
]

# ---------------- helpers to build tables ----------------
def from_cols(cols):
    return [(x, y) for x, ys in cols for y in ys]

def from_rows(rows):
    return [(x, y) for y, xs in rows for x in xs]

def table(points):
    return pd.DataFrame(points, columns=["x", "y"])

obs_tables = [
    table(from_cols(a_obs_core) + from_cols(a_obs_core2) + a_obs_sparse),
    table(from_cols(b_obs_core) + from_cols(b_obs_core2) + b_obs_sparse),
    table(from_rows(c_obs_core) + c_obs_sparse),
    table(from_cols(d_obs_core) + from_cols(d_obs_core2) + d_obs_sparse),
    table(from_cols(e_obs_core) + from_cols(e_obs_core2) + e_obs_sparse),
    table(from_cols(f_obs_core) + from_cols(f_obs_core2) + f_obs_sparse),
]
mod_tables = [table(a_mod), table(b_mod), table(c_mod),
              table(d_mod), table(e_mod), table(f_mod)]

# ---------------- STYLE ----------------
sns.set_theme(style="ticks")
plt.rcParams["font.family"] = ["Liberation Sans", "DejaVu Sans"]
plt.rcParams["mathtext.fontset"] = "custom"
plt.rcParams["mathtext.rm"] = "Liberation Sans"
plt.rcParams["mathtext.it"] = "Liberation Sans:italic"
plt.rcParams["mathtext.bf"] = "Liberation Sans:bold"

fig = plt.figure(figsize=(11.75, 9.14), dpi=100)
lefts = [0.0613, 0.3872, 0.714]
bottoms = [0.557, 0.0799]
W, H = 0.2664, 0.350

spine_c = "#555555"
line_c = "#808080"
FS = 20

axes = []
for r in range(2):
    for c in range(3):
        axes.append(fig.add_axes([lefts[c], bottoms[r], W, H]))

for i, ax in enumerate(axes):
    r, c = divmod(i, 3)
    if r == 0:
        xmax = 1.5
        ax.plot([0, 1.5], [0, 3.0], color=line_c, lw=1.5, zorder=1)
        ax.plot([0, 1.5], [0, 1.5], color=line_c, lw=1.5, zorder=1)
        ax.text(1.39, 2.31, "2:1", fontsize=13, ha="center", va="center", zorder=2)
        ax.text(1.39, 1.06, "1:1", fontsize=13, ha="center", va="center", zorder=2)
    else:
        xmax = 6.1
        ax.plot([0, 3.0], [0, 6.0], color=line_c, lw=1.5, zorder=1)
        ax.plot([0, 6.1], [0, 6.1], color=line_c, lw=1.5, zorder=1)
        ax.text(3.13, 5.49, "2:1", fontsize=13, ha="center", va="center", zorder=2)
        ax.text(5.71, 5.05, "1:1", fontsize=13, ha="center", va="center", zorder=2)

    sns.scatterplot(data=obs_tables[i], x="x", y="y", ax=ax, color="black",
                    alpha=0.7, s=44, edgecolor="black", linewidth=0.6,
                    legend=False, zorder=3)
    sns.scatterplot(data=mod_tables[i], x="x", y="y", ax=ax, color=model_colors[c],
                    alpha=1.0, s=44, edgecolor=model_colors[c], linewidth=0.6,
                    legend=False, zorder=4)

    ax.set_xlim(0, xmax)
    ax.set_ylim(0, 6)
    ax.set_yticks(yticks)
    if r == 0:
        ax.set_xticks(top_xticks)
        ax.set_xticklabels([f"{v:.1f}" for v in top_xticks])
        ax.set_xlabel(r"SO$_4^{2-}$  (ppb)", fontsize=FS)
        ax.set_title(days[c], fontsize=FS, pad=5)
    else:
        ax.set_xticks(bottom_xticks)
        ax.set_xticklabels([f"{v:.1f}" for v in bottom_xticks])
        ax.set_xlabel(r"2*SO$_4^{2-}$ + NO$_3^{-}$  (ppb)", fontsize=FS)
    if c == 0:
        ax.set_yticklabels([str(v) for v in yticks])
        ax.set_ylabel(r"NH$_4^+$  (ppb)", fontsize=FS)
    else:
        ax.set_yticklabels([])
        ax.set_ylabel("")

    for side in ["top", "right"]:
        ax.spines[side].set_visible(False)
    for side in ["left", "bottom"]:
        ax.spines[side].set_color(spine_c)
        ax.spines[side].set_linewidth(1.0)
    ax.tick_params(labelsize=FS, length=4, width=1, color=spine_c, pad=2)
    ax.text(0.025, 0.995, panel_letters[i], transform=ax.transAxes,
            fontsize=FS, ha="left", va="top")

handles = [
    Line2D([], [], marker="o", ls="", markersize=6.5, markerfacecolor="#555555",
           markeredgecolor="#555555"),
    Line2D([], [], marker="o", ls="", markersize=6.5, markerfacecolor="#F4AECB",
           markeredgecolor="#F4AECB"),
]
axes[0].legend(handles, ["Observations", "Model"], loc="upper left",
               bbox_to_anchor=(-0.003, 1.0), frameon=False, fontsize=FS,
               handletextpad=0.9, labelspacing=0.5)

fig.suptitle("NYC", fontsize=22, y=0.985)
fig.savefig("out.png", dpi=100)
